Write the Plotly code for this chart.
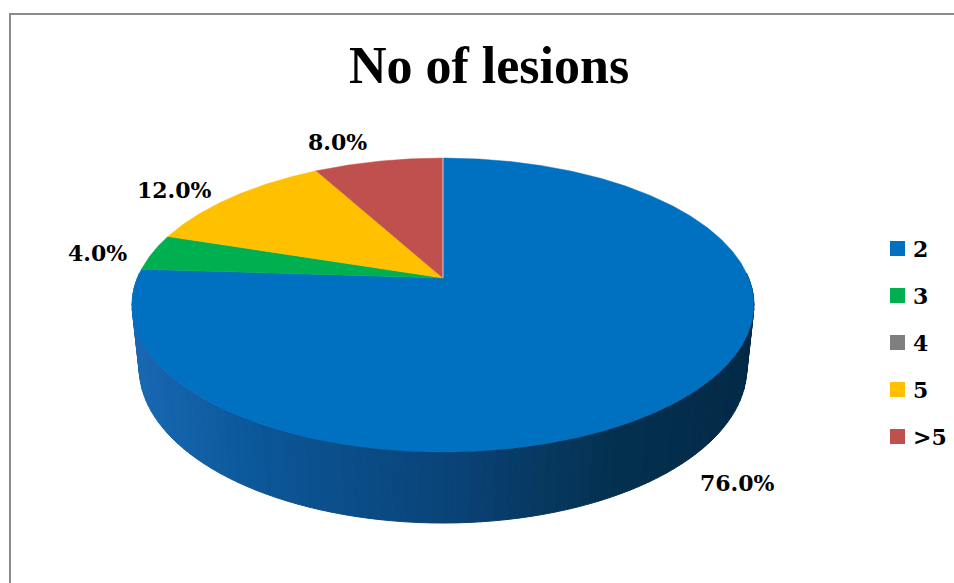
import numpy as np
import plotly.graph_objects as go

# Share of patients by number of lesions
categories = ["2", "3", "4", "5", ">5"]
shares = [76.0, 4.0, 0.0, 12.0, 8.0]
colors = ["#0070C0", "#00B050", "#7F7F7F", "#FFC000", "#C0504D"]
label_text = ["76.0%", "4.0%", "", "12.0%", "8.0%"]

W, H = 954, 583

# Perspective model of the tilted disc (radius 1 on the ground plane)
CX, CY = 443.0, 278.0        # screen position of the disc centre
ELEV = np.arcsin(0.4645)     # camera elevation
DIST = 4.82                  # camera distance in disc radii
FOC = 1473.0                 # focal length in pixels
THICK = 0.235                # disc thickness in radii


def project(theta_deg, depth=0.0):
    """Screen coordinates of a rim point; theta measured clockwise from 12 o'clock."""
    t = np.radians(theta_deg)
    X = np.sin(t)
    Z = np.cos(t)
    yc = Z * np.sin(ELEV) - depth * np.cos(ELEV)
    zc = DIST + Z * np.cos(ELEV) + depth * np.sin(ELEV)
    return CX + FOC * X / zc, CY - FOC * yc / zc


def side_colour(x):
    stops = [(130, (24, 104, 178)), (260, (11, 86, 152)), (443, (10, 68, 121)),
             (610, (4, 49, 80)), (760, (2, 41, 70))]
    for (x0, c0), (x1, c1) in zip(stops[:-1], stops[1:]):
        if x <= x1:
            f = max(0.0, (x - x0) / (x1 - x0))
            c = [round(a + (b - a) * f) for a, b in zip(c0, c1)]
            return "rgb(%d,%d,%d)" % tuple(c)
    return "rgb(%d,%d,%d)" % stops[-1][1]


fig = go.Figure()

# Curved side wall of the front (blue) slice, as thin shaded strips
step = 2.0
edges = np.arange(88.0, 272.0 + step, step)
for a0, a1 in zip(edges[:-1], edges[1:]):
    xt0, yt0 = project(a0)
    xt1, yt1 = project(a1)
    xb1, yb1 = project(a1, THICK)
    xb0, yb0 = project(a0, THICK)
    col = side_colour((xt0 + xt1) / 2)
    fig.add_trace(go.Scatter(
        x=[xt0, xt1, xb1, xb0, xt0], y=[yt0, yt1, yb1, yb0, yt0],
        mode="lines", fill="toself", fillcolor=col,
        line=dict(color=col, width=1), hoverinfo="skip", showlegend=False))

# Top face of each slice
cum = 0.0
label_pos = {"76.0%": (737, 483), "4.0%": (97, 253), "12.0%": (174, 190), "8.0%": (337, 142)}
for cat, val, col in zip(categories, shares, colors):
    a0 = cum / 100 * 360
    cum += val
    a1 = cum / 100 * 360
    if val > 0:
        ang = np.linspace(a0, a1, max(4, int((a1 - a0) / 0.5) + 1))
        px, py = project(ang)
        xs = np.concatenate([[CX], px, [CX]])
        ys = np.concatenate([[CY], py, [CY]])
        fig.add_trace(go.Scatter(
            x=xs, y=ys, mode="lines", fill="toself", fillcolor=col, name=cat,
            line=dict(color=col, width=0.5), hoverinfo="skip", showlegend=False))

# Thin highlight where the last slice meets the first one
tx, ty = project(0.0)
fig.add_trace(go.Scatter(x=[CX, tx], y=[CY, ty], mode="lines",
                         line=dict(color="rgba(200,210,225,0.8)", width=1.2),
                         hoverinfo="skip", showlegend=False))

# Key: coloured squares with category names, stacked on the right
key_x = 897.5
key_y = 248.5 + 47.0 * np.arange(len(categories))
fig.add_trace(go.Scatter(
    x=[key_x] * len(categories), y=key_y, mode="markers",
    marker=dict(symbol="square", size=15, color=colors, line=dict(width=0)),
    hoverinfo="skip", showlegend=False))
for cat, ky in zip(categories, key_y):
    fig.add_annotation(x=key_x + 13, y=ky, text="<b>%s</b>" % cat, showarrow=False,
                       font=dict(family="DejaVu Serif", size=22, color="#000000"),
                       xanchor="left", yanchor="middle")

# Percentage labels
for txt in label_text:
    if txt:
        lx, ly = label_pos[txt]
        fig.add_annotation(x=lx, y=ly, text="<b>%s</b>" % txt, showarrow=False,
                           font=dict(family="DejaVu Serif", size=22, color="#000000"),
                           xanchor="center", yanchor="middle")

fig.update_layout(
    width=W, height=H,
    margin=dict(l=0, r=0, t=0, b=0, autoexpand=False),
    paper_bgcolor="white", plot_bgcolor="white",
    title=dict(text="<b>No of lesions</b>", x=489 / W, xanchor="center",
               y=1 - 65 / H, yanchor="middle", automargin=False,
               font=dict(family="Liberation Serif", size=52, color="#000000")),
    xaxis=dict(range=[0, W], visible=False, fixedrange=True),
    yaxis=dict(range=[H, 0], visible=False, fixedrange=True),
    showlegend=False,
    shapes=[dict(type="rect", xref="x", yref="y", x0=10, y0=14, x1=W + 5, y1=H + 5,
                 line=dict(color="#8C8C8C", width=2), layer="below")],
)

fig.write_html("out.html")
